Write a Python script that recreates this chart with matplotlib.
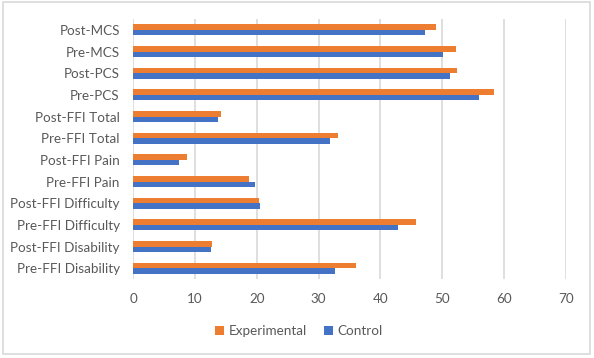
import matplotlib
matplotlib.use("Agg")
import matplotlib.pyplot as plt
import numpy as np
from matplotlib.patches import Rectangle

categories = ["Pre-FFI Disability", "Post-FFI Disability", "Pre-FFI Difficulty",
              "Post-FFI Difficulty", "Pre-FFI Pain", "Post-FFI Pain",
              "Pre-FFI Total", "Post-FFI Total", "Pre-PCS", "Post-PCS",
              "Pre-MCS", "Post-MCS"]
experimental = [36.1, 12.8, 45.8, 20.3, 18.7, 8.7, 33.1, 14.2, 58.4, 52.4, 52.2, 49.0]
control = [32.7, 12.6, 42.8, 20.5, 19.7, 7.5, 31.8, 13.7, 55.9, 51.2, 50.1, 47.2]
xticks = [0, 10, 20, 30, 40, 50, 60, 70]

plt.rcParams['font.family'] = ['Lato', 'DejaVu Sans']
text_color = "#595959"
orange = "#ED7D31"
blue = "#4472C4"

fig = plt.figure(figsize=(5.94, 3.58), dpi=100)
ax = fig.add_axes([133/594, 1 - 279/358, (566-133)/594, (279-19)/358])

y = np.arange(len(categories))
h = 0.26
ax.barh(y + h/2, experimental, height=h, color=orange, label="Experimental", zorder=3)
ax.barh(y - h/2, control, height=h, color=blue, label="Control", zorder=3)

ax.set_xlim(0, 70)
ax.set_ylim(-0.5, len(categories) - 0.5)
ax.set_xticks(xticks)
ax.set_xticklabels([str(t) for t in xticks])
ax.set_yticks(y)
ax.set_yticklabels(categories)
ax.tick_params(axis='both', length=0, colors=text_color, labelsize=9.7)
ax.tick_params(axis='x', pad=10)
ax.tick_params(axis='y', pad=9.5)
for s in ax.spines.values():
    s.set_visible(False)
ax.grid(axis='x', color="#d9d9d9", linewidth=1.2, zorder=0)

handles, labels = ax.get_legend_handles_labels()
fig.legend(handles, labels, loc='center', bbox_to_anchor=(0.503, 1 - 331/358), ncol=2,
           frameon=False, fontsize=9.7, labelcolor=text_color,
           handlelength=0.7, handleheight=0.7, handletextpad=0.3, columnspacing=1.3)

fig.patches.append(Rectangle((3/594, 1 - 354/358), (590-3)/594, (354-2)/358,
                             transform=fig.transFigure, fill=False,
                             edgecolor="#d9d9d9", linewidth=1.2))

fig.savefig("out.png", dpi=100)
